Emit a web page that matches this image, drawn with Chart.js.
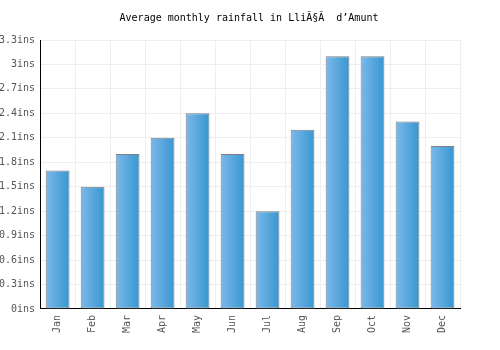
<!DOCTYPE html>
<html>
<head>
<meta charset="utf-8">
<script src="https://cdn.jsdelivr.net/npm/chart.js"></script>
<style>
  body { margin: 0; background: #fff; }
  #wrap { width: 500px; height: 350px; }
</style>
</head>
<body>
<div id="wrap"><canvas id="rain"></canvas></div>
<script>
var months = ["Jan", "Feb", "Mar", "Apr", "May", "Jun", "Jul", "Aug", "Sep", "Oct", "Nov", "Dec"];
var rainfall = [1.7, 1.5, 1.9, 2.1, 2.4, 1.9, 1.2, 2.2, 3.1, 3.1, 2.3, 2.0];
var yMax = 3.3;
var yStep = 0.3;

var monoFont = "'DejaVu Sans Mono', monospace";

// horizontal gradient per bar, light on the left, darker on the right
function barFill(context) {
    var chart = context.chart;
    var area = chart.chartArea;
    if (!area || !chart.scales.x) return "#5aa8e0";
    var cx = chart.scales.x.getPixelForValue(context.dataIndex);
    var half = (area.right - area.left) / months.length * 0.68 / 2;
    var g = chart.ctx.createLinearGradient(cx - half, 0, cx + half, 0);
    g.addColorStop(0, "#7bb9ea");
    g.addColorStop(1, "#3896d0");
    return g;
}

var ctx = document.getElementById("rain").getContext("2d");
var rainChart = new Chart(ctx, {
    type: "bar",
    data: {
        labels: months,
        datasets: [{
            label: "Rainfall",
            data: rainfall,
            backgroundColor: barFill,
            borderColor: "#808080",
            borderWidth: 1,
            borderSkipped: false,
            barPercentage: 0.68,
            categoryPercentage: 1
        }]
    },
    options: {
        responsive: true,
        maintainAspectRatio: false,
        animation: false,
        layout: { padding: { top: 4, right: -4, bottom: 11, left: -6 } },
        plugins: {
            legend: { display: false },
            tooltip: { enabled: false },
            title: {
                display: true,
                text: "Average monthly rainfall in Lli\u00c3\u00a7\u00c3\u00a0 d\u2019Amunt",
                color: "#000",
                font: { family: monoFont, size: 10, weight: "normal" },
                padding: { top: 8, bottom: 16 }
            }
        },
        scales: {
            x: {
                grid: { color: "#eeeeee", drawTicks: false },
                border: { color: "#000", width: 1 },
                ticks: {
                    color: "#555",
                    font: { family: monoFont, size: 10 },
                    minRotation: 90,
                    maxRotation: 90,
                    padding: 6
                }
            },
            y: {
                min: 0,
                max: yMax,
                grid: { color: "#eeeeee", drawTicks: false },
                border: { color: "#000", width: 1 },
                ticks: {
                    stepSize: yStep,
                    color: "#555",
                    font: { family: monoFont, size: 10 },
                    padding: 5,
                    callback: function (v) {
                        return (Math.round(v * 10) / 10) + "ins";
                    }
                }
            },
            // empty spacer on the right so the title stays centred on the page
            spacer: {
                type: "linear",
                axis: "y",
                position: "right",
                grid: { display: false },
                border: { display: false },
                ticks: { display: false },
                afterFit: function (scale) { scale.width = 44; }
            }
        }
    }
});
</script>
</body>
</html>
